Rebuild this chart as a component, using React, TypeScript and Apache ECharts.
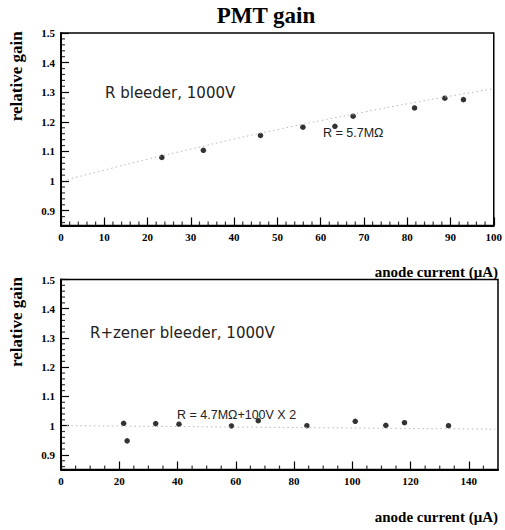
import React, { useEffect, useRef } from "react";
import * as echarts from "echarts";

// ---- data ----
const topCurrent = [23.3, 32.9, 46.1, 55.9, 63.3, 67.5, 81.7, 88.7, 93.0];
const topGain = [1.080, 1.104, 1.154, 1.182, 1.185, 1.219, 1.247, 1.280, 1.275];
const topFitX = [1.5, 10, 20, 30, 40, 50, 60, 70, 80, 90, 100];
const topFitY = [1.005, 1.037, 1.074, 1.108, 1.142, 1.174, 1.204, 1.233, 1.261, 1.287, 1.312];

const bottomCurrent = [21.5, 22.7, 32.5, 40.5, 58.5, 67.7, 84.4, 101.0, 111.5, 117.9, 133.0];
const bottomGain = [1.008, 0.948, 1.007, 1.005, 0.999, 1.017, 1.000, 1.015, 1.001, 1.010, 1.000];
const bottomFitX = [2, 149];
const bottomFitY = [1.0, 0.988];

const topXMajor = [0, 10, 20, 30, 40, 50, 60, 70, 80, 90, 100];
const topXMinor = [2, 4, 6, 8, 12, 14, 16, 18, 22, 24, 26, 28, 32, 34, 36, 38, 42, 44, 46, 48, 52, 54, 56, 58, 62, 64, 66, 68, 72, 74, 76, 78, 82, 84, 86, 88, 92, 94, 96, 98];
const bottomXMajor = [0, 20, 40, 60, 80, 100, 120, 140];
const bottomXMinor = [5, 10, 15, 25, 30, 35, 45, 50, 55, 65, 70, 75, 85, 90, 95, 105, 110, 115, 125, 130, 135, 145];
const yMajor = [0.9, 1, 1.1, 1.2, 1.3, 1.4, 1.5];
const yMinor = [0.86, 0.88, 0.92, 0.94, 0.96, 0.98, 1.02, 1.04, 1.06, 1.08, 1.12, 1.14, 1.16, 1.18, 1.22, 1.24, 1.26, 1.28, 1.32, 1.34, 1.36, 1.38, 1.42, 1.44, 1.46, 1.48];
const yMin = 0.85;
const yMax = 1.5;

const titleText = "PMT gain";
const yName = "relative gain";
const xName = "anode current (\u03bcA)";
const topLabel = "R bleeder, 1000V";
const topFitLabel = "R = 5.7M\u03a9";
const bottomLabel = "R+zener bleeder, 1000V";
const bottomFitLabel = "R = 4.7M\u03a9+100V X 2";

const SERIF = "Liberation Serif, DejaVu Serif, serif";
const SANS = "DejaVu Sans";
const SANS2 = "Liberation Sans";

const labelStyle = { color: "#000", fontFamily: SERIF, fontWeight: "bold", fontSize: 11, margin: 6 };
const tickLine = { color: "#000", width: 1.2 };

function xAxisDef(grid: number, max: number, major: number[]) {
  return {
    type: "value", gridIndex: grid, min: 0, max,
    splitLine: { show: false },
    axisLine: { show: true, onZero: false, lineStyle: { color: "#000", width: 2 } },
    axisTick: { show: true, inside: true, length: 8, customValues: major, lineStyle: tickLine },
    axisLabel: { show: true, customValues: major, ...labelStyle },
  };
}
function yAxisDef(grid: number, shift: number) {
  return {
    type: "value", gridIndex: grid, min: yMin, max: yMax,
    name: yName, nameLocation: "middle", nameRotate: 90, nameGap: 36,
    nameTextStyle: { color: "#000", fontFamily: SERIF, fontWeight: "bold", fontSize: 17, padding: [0, 0, 0, shift] },
    splitLine: { show: false },
    axisLine: { show: true, onZero: false, lineStyle: { color: "#000", width: 2 } },
    axisTick: { show: true, inside: true, length: 8, customValues: yMajor, lineStyle: tickLine },
    axisLabel: { show: true, customValues: yMajor, ...labelStyle },
  };
}

// minor tick marks placed through the axes' own scales
function xTicks(axisIdx: number, values: number[], len: number) {
  return {
    type: "scatter", xAxisIndex: axisIdx, yAxisIndex: axisIdx, clip: false,
    data: values.map((v) => [v, yMin]),
    symbol: "rect", symbolSize: [1.2, len], symbolOffset: [0, -len / 2],
    itemStyle: { color: "#000" },
  };
}
function yTicks(axisIdx: number, values: number[], len: number) {
  return {
    type: "scatter", xAxisIndex: axisIdx, yAxisIndex: axisIdx, clip: false,
    data: values.map((v) => [0, v]),
    symbol: "rect", symbolSize: [len, 1.2], symbolOffset: [len / 2, 0],
    itemStyle: { color: "#000" },
  };
}

function label(text: string, left: number, top: number, fontFamily: string, fontSize: number, fontWeight: string, align: string, color = "#000") {
  return {
    text, left, top, padding: 0, textAlign: align, textVerticalAlign: "middle",
    textStyle: { color, fontFamily, fontSize, fontWeight },
  };
}

export default function App() {
  const ref = useRef<HTMLDivElement>(null);
  useEffect(() => {
    if (!ref.current) return;
    const chart = echarts.init(ref.current, undefined, { renderer: "svg" });
    const zip = (xs: number[], ys: number[]) => xs.map((x, i) => [x, ys[i]]);
    const fitStyle = { color: "#b8b8b8", width: 1, type: [1.5, 3] };
    chart.setOption({
      animation: false,
      title: [
        label(titleText, 266, 15, SERIF, 23, "bold", "center"),
        label(xName, 498, 272, SERIF, 15, "bold", "right"),
        label(xName, 498, 517, SERIF, 15, "bold", "right"),
        label(topLabel, 105, 93, SANS, 15, "normal", "left", "#222"),
        label(topFitLabel, 323, 133, SANS2, 12.5, "normal", "left", "#222"),
        label(bottomLabel, 90, 333, SANS, 15, "normal", "left", "#222"),
        label(bottomFitLabel, 177, 414.5, SANS2, 12.5, "normal", "left", "#222"),
      ],
      grid: [
        { left: 60.5, top: 33, width: 437.5, height: 192.5, show: true, borderColor: "#000", borderWidth: 1.5 },
        { left: 60.5, top: 279.5, width: 437.5, height: 190, show: true, borderColor: "#000", borderWidth: 1.5 },
      ],
      xAxis: [xAxisDef(0, 100, topXMajor), xAxisDef(1, 150, bottomXMajor)],
      yAxis: [yAxisDef(0, 106), yAxisDef(1, 105)],
      series: [
        {
          type: "line", xAxisIndex: 0, yAxisIndex: 0, data: zip(topFitX, topFitY),
          showSymbol: false, smooth: true, lineStyle: fitStyle,
        },
        {
          type: "scatter", xAxisIndex: 0, yAxisIndex: 0, data: zip(topCurrent, topGain),
          symbol: "circle", symbolSize: 5.5, itemStyle: { color: "#000" },
        },
        {
          type: "line", xAxisIndex: 1, yAxisIndex: 1, data: zip(bottomFitX, bottomFitY),
          showSymbol: false, lineStyle: fitStyle,
        },
        {
          type: "scatter", xAxisIndex: 1, yAxisIndex: 1, data: zip(bottomCurrent, bottomGain),
          symbol: "circle", symbolSize: 5.5, itemStyle: { color: "#000" },
        },
        xTicks(0, topXMinor, 4),
        yTicks(0, yMinor, 4),
        xTicks(1, bottomXMinor, 4),
        yTicks(1, yMinor, 4),
      ],
    });
    return () => chart.dispose();
  }, []);
  return <div ref={ref} style={{ position: "absolute", left: 0, top: 0, width: 505, height: 530 }} />;
}
